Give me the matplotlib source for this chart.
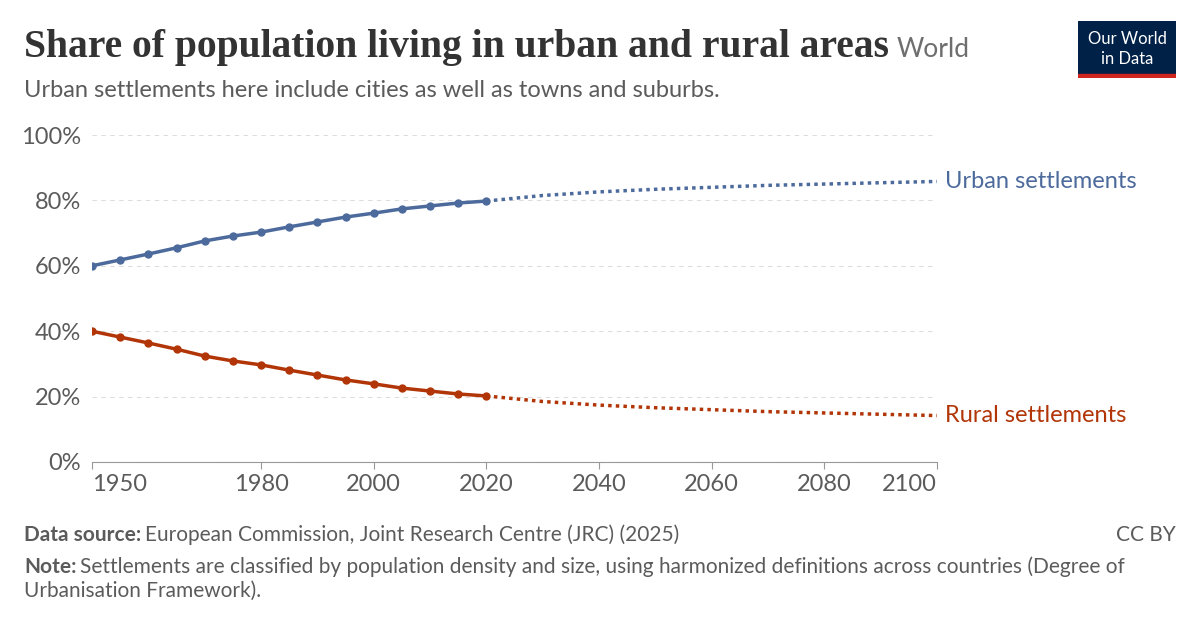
import matplotlib
matplotlib.use("Agg")
import matplotlib.pyplot as plt

years_hist = [1950,1955,1960,1965,1970,1975,1980,1985,1990,1995,2000,2005,2010,2015,2020]
urban_hist = [60.0,61.8,63.6,65.5,67.6,69.1,70.3,71.9,73.4,74.9,76.1,77.4,78.3,79.2,79.8]
rural_hist = [100-u for u in urban_hist]
years_proj = [2020,2030,2040,2050,2060,2070,2080,2090,2100]
urban_proj = [79.8,81.5,82.6,83.4,84.0,84.6,85.0,85.4,85.8]
rural_proj = [100-u for u in urban_proj]
xticks = [1950,1980,2000,2020,2040,2060,2080,2100]
yticks = [0,20,40,60,80,100]

BLUE = "#4c6a9c"; RED = "#b13507"; GREY = "#5b5b5b"
plt.rcParams['font.family'] = ['Lato', 'DejaVu Sans']
fig = plt.figure(figsize=(12, 6.27), dpi=100)
ax = fig.add_axes([92/1200, 1-462/627, (937-92)/1200, (462-135)/627])
ax.plot(years_hist, urban_hist, color=BLUE, lw=2.5, marker='o', ms=5)
ax.plot(years_proj, urban_proj, color=BLUE, lw=2.5, ls=(0,(1,1.2)))
ax.plot(years_hist, rural_hist, color=RED, lw=2.5, marker='o', ms=5)
ax.plot(years_proj, rural_proj, color=RED, lw=2.5, ls=(0,(1,1.2)))
ax.set_xlim(1950, 2100); ax.set_ylim(0, 100)
ax.set_yticks(yticks); ax.set_yticklabels([f"{v}%" for v in yticks])
ax.set_xticks(xticks)
for s in ['top','right','left']: ax.spines[s].set_visible(False)
ax.spines['bottom'].set_color('#999999')
ax.tick_params(axis='y', length=0, labelsize=17, labelcolor=GREY, pad=8)
ax.tick_params(axis='x', length=5, color='#999999', labelsize=17, labelcolor=GREY)
ax.yaxis.grid(True, ls=(0,(4,4)), color='#dddddd')
xl = ax.get_xticklabels()
xl[0].set_horizontalalignment('left'); xl[-1].set_horizontalalignment('right')
ax.text(2101.5, urban_proj[-1], "Urban settlements", color=BLUE, fontsize=17, va='center', clip_on=False)
ax.text(2101.5, rural_proj[-1], "Rural settlements", color=RED, fontsize=17, va='center', clip_on=False)

r = fig.canvas.get_renderer()
def after(t, txt, **kw):
    bb = t.get_window_extent(r)
    return fig.text(bb.x1/1200 + kw.pop('gap', 0), t.get_position()[1], txt, va='baseline', **kw)

t = fig.text(24/1200, 1-57/627, "Share of population living in urban and rural areas", fontsize=28.5,
         family=['Liberation Serif','DejaVu Serif'], weight='bold', color='#333333', va='baseline')
after(t, "World", fontsize=19, color='#6e6e6e', gap=8/1200)
fig.text(24/1200, 1-97/627, "Urban settlements here include cities as well as towns and suburbs.", fontsize=17, color=GREY, va='baseline')
t = fig.text(24/1200, 1-541/627, "Data source:", fontsize=15, color=GREY, va='baseline', weight='bold')
after(t, "European Commission, Joint Research Centre (JRC) (2025)", fontsize=15, color=GREY, gap=4/1200)
fig.text(1176/1200, 1-541/627, "CC BY", fontsize=15, color=GREY, va='baseline', ha='right')
t = fig.text(24/1200, 1-573/627, "Note:", fontsize=15, color=GREY, va='baseline', weight='bold')
after(t, "Settlements are classified by population density and size, using harmonized definitions across countries (Degree of", fontsize=15, color=GREY, gap=4/1200)
fig.text(24/1200, 1-597/627, "Urbanisation Framework).", fontsize=15, color=GREY, va='baseline')

logo = fig.add_axes([1078/1200, 1-78/627, 98/1200, 57/627])
logo.set_xlim(0,1); logo.set_ylim(0,1); logo.axis('off')
logo.add_patch(plt.Rectangle((0,0.07),1,0.93,color='#002147'))
logo.add_patch(plt.Rectangle((0,0),1,0.07,color='#ce261e'))
logo.text(0.5,0.68,"Our World",color='white',fontsize=12,ha='center',va='center')
logo.text(0.5,0.33,"in Data",color='white',fontsize=12,ha='center',va='center')
fig.savefig("out.png", dpi=100, facecolor='white')
